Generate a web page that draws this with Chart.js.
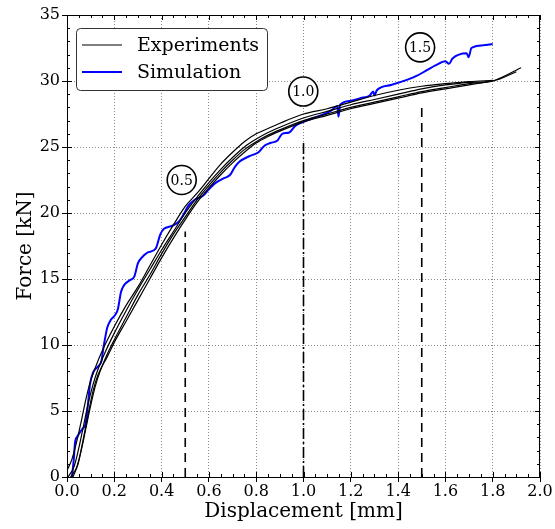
<!DOCTYPE html>
<html>
<head>
<meta charset="utf-8">
<script src="https://cdn.jsdelivr.net/npm/chart.js@4.4.0/dist/chart.umd.min.js"></script>
<style>
  html, body { margin: 0; padding: 0; background: #fff; }
</style>
</head>
<body>
<canvas id="chart" width="555" height="529"></canvas>
<script>
// ---- measured curves: displacement [mm] / force [kN] ----
const exp1Disp  = [0, 0.02, 0.04, 0.06, 0.08, 0.10, 0.12, 0.15, 0.20, 0.25, 0.30, 0.35, 0.40, 0.45, 0.50, 0.55, 0.60, 0.65, 0.70, 0.75, 0.80, 0.85, 0.90, 1.0, 1.1, 1.2, 1.3, 1.4, 1.5, 1.6, 1.7, 1.8];
const exp1Force = [0.5, 1.3, 2.6, 4.2, 5.9, 7.3, 8.3, 9.6, 11.4, 13.0, 14.4, 16.0, 17.6, 19.1, 20.5, 21.5, 22.6, 23.7, 24.6, 25.4, 26.0, 26.4, 26.8, 27.5, 27.9, 28.4, 28.9, 29.3, 29.6, 29.8, 29.95, 30.05];

const exp2Disp  = [0.005, 0.03, 0.05, 0.07, 0.09, 0.11, 0.13, 0.16, 0.20, 0.25, 0.30, 0.35, 0.40, 0.45, 0.50, 0.55, 0.60, 0.65, 0.70, 0.75, 0.80, 0.85, 0.90, 1.0, 1.1, 1.2, 1.3, 1.4, 1.5, 1.6, 1.7, 1.8, 1.90];
const exp2Force = [0, 0.8, 2.2, 3.9, 5.6, 7.0, 8.1, 9.4, 10.9, 12.6, 14.2, 15.7, 17.2, 18.6, 20.0, 21.2, 22.3, 23.3, 24.2, 25.0, 25.6, 26.1, 26.5, 27.2, 27.7, 28.2, 28.6, 29.0, 29.4, 29.7, 29.9, 30.0, 30.7];

const exp3Disp  = [0.015, 0.04, 0.06, 0.08, 0.10, 0.12, 0.14, 0.17, 0.20, 0.25, 0.30, 0.35, 0.40, 0.45, 0.50, 0.55, 0.60, 0.65, 0.70, 0.75, 0.80, 0.85, 0.90, 1.0, 1.1, 1.2, 1.3, 1.4, 1.5, 1.6, 1.7, 1.8, 1.92];
const exp3Force = [0, 0.7, 2.0, 3.7, 5.4, 6.9, 8.0, 9.3, 10.4, 12.1, 13.8, 15.3, 16.9, 18.4, 19.7, 21.0, 22.1, 23.1, 24.0, 24.8, 25.4, 25.9, 26.3, 27.0, 27.5, 28.0, 28.4, 28.8, 29.2, 29.5, 29.8, 30.0, 31.0];

const exp4Disp  = [0.025, 0.047, 0.068, 0.09, 0.11, 0.13, 0.17, 0.20, 0.25, 0.30, 0.35, 0.40, 0.45, 0.50, 0.55, 0.60, 0.65, 0.70, 0.75, 0.80, 0.85, 0.90, 1.0, 1.1, 1.2, 1.3, 1.4, 1.5, 1.6, 1.7, 1.8];
const exp4Force = [0, 1.0, 2.8, 4.8, 6.5, 7.7, 9.1, 10.2, 11.8, 13.4, 15.0, 16.6, 18.1, 19.5, 20.8, 21.9, 22.9, 23.8, 24.6, 25.3, 25.8, 26.2, 26.9, 27.4, 27.9, 28.3, 28.7, 29.1, 29.4, 29.7, 30.0];

// ---- simulation ----
const simDisp  = [0.021, 0.028, 0.034, 0.045, 0.055, 0.068, 0.078, 0.088, 0.097, 0.110, 0.130, 0.146, 0.154, 0.162, 0.170, 0.185, 0.200, 0.215, 0.228, 0.240, 0.265, 0.285, 0.300, 0.315, 0.340, 0.375, 0.395, 0.410, 0.440, 0.470, 0.490, 0.515, 0.540, 0.575, 0.600, 0.630, 0.660, 0.690, 0.710, 0.730, 0.770, 0.810, 0.835, 0.860, 0.890, 0.910, 0.940, 0.965, 1.000, 1.040, 1.090, 1.120, 1.143, 1.148, 1.155, 1.200, 1.240, 1.280, 1.295, 1.300, 1.310, 1.370, 1.440, 1.480, 1.520, 1.560, 1.600, 1.615, 1.630, 1.690, 1.698, 1.710, 1.760, 1.800];
const simForce = [0, 1.2, 2.6, 3.1, 3.4, 3.7, 4.0, 5.4, 7.0, 7.9, 8.35, 8.8, 9.8, 10.6, 11.3, 11.9, 12.2, 12.7, 14.0, 14.5, 14.9, 15.2, 16.2, 16.6, 17.0, 17.3, 18.4, 18.8, 19.0, 19.3, 19.8, 20.6, 21.0, 21.3, 21.8, 22.3, 22.6, 22.9, 23.5, 23.9, 24.3, 24.6, 25.1, 25.3, 25.5, 26.0, 26.1, 26.6, 26.9, 27.2, 27.5, 27.8, 28.1, 27.3, 28.2, 28.5, 28.7, 28.9, 29.2, 28.9, 29.3, 29.7, 30.1, 30.4, 30.8, 31.2, 31.5, 31.3, 31.7, 32.1, 31.8, 32.5, 32.7, 32.8];

// ---- displacement markers (vertical guides) and their tags ----
const guideDisp  = [0.5, 1.0, 1.5];
const guideTop   = [18.6, 25.4, 28.4];
const tagText    = ['0.5', '1.0', '1.5'];
const tagDisp    = [0.485, 0.999, 1.493];
const tagForce   = [22.5, 29.2, 32.55];

// ---- axis ticks ----
const xTickValues = [0, 0.2, 0.4, 0.6, 0.8, 1.0, 1.2, 1.4, 1.6, 1.8, 2.0];
const yTickValues = [0, 5, 10, 15, 20, 25, 30, 35];

const SERIF = '"DejaVu Serif", serif';

function pts(xs, ys) {
  return xs.map((x, i) => ({ x: x, y: ys[i] }));
}

function expSet(xs, ys, label) {
  return {
    label: label,
    data: pts(xs, ys),
    borderColor: '#000',
    borderWidth: 1.2,
    pointRadius: 0,
    showLine: true,
    cubicInterpolationMode: 'monotone',
    fill: false
  };
}

const dashes = [[9, 6], [11, 3, 2, 3], [9, 6]];
const guideSets = guideDisp.map((d, i) => ({
  label: 'guide',
  data: [{ x: d, y: 0 }, { x: d, y: guideTop[i] }],
  borderColor: '#000',
  borderWidth: 1.6,
  borderDash: dashes[i],
  pointRadius: 0,
  showLine: true,
  fill: false
}));

// frame on top/right plus inward minor ticks
const framePlugin = {
  id: 'frame',
  afterDraw(chart) {
    const { ctx, chartArea: a, scales } = chart;
    ctx.save();
    ctx.strokeStyle = '#000';
    ctx.lineWidth = 1;
    ctx.beginPath();
    ctx.moveTo(a.left, a.top + 0.5);
    ctx.lineTo(a.right, a.top + 0.5);
    ctx.moveTo(a.right - 0.5, a.top);
    ctx.lineTo(a.right - 0.5, a.bottom);
    // minor x ticks
    for (let v = 0; v <= 2.0001; v += 0.05) {
      const px = Math.round(scales.x.getPixelForValue(v)) + 0.5;
      const major = Math.abs(v * 5 - Math.round(v * 5)) < 1e-6;
      const len = major ? 5 : 3;
      ctx.moveTo(px, a.bottom); ctx.lineTo(px, a.bottom - len);
      ctx.moveTo(px, a.top); ctx.lineTo(px, a.top + len);
    }
    // minor y ticks
    for (let v = 0; v <= 35; v += 1) {
      const py = Math.round(scales.y.getPixelForValue(v)) + 0.5;
      const len = v % 5 === 0 ? 5 : 3;
      ctx.moveTo(a.left, py); ctx.lineTo(a.left + len, py);
      ctx.moveTo(a.right, py); ctx.lineTo(a.right - len, py);
    }
    ctx.stroke();
    ctx.restore();
  }
};

// circled displacement tags
const tagPlugin = {
  id: 'tags',
  afterDatasetsDraw(chart) {
    const { ctx, scales } = chart;
    ctx.save();
    tagText.forEach((t, i) => {
      const cx = scales.x.getPixelForValue(tagDisp[i]);
      const cy = scales.y.getPixelForValue(tagForce[i]);
      ctx.beginPath();
      ctx.arc(cx, cy, 14.5, 0, Math.PI * 2);
      ctx.fillStyle = '#fff';
      ctx.fill();
      ctx.lineWidth = 1.6;
      ctx.strokeStyle = '#000';
      ctx.stroke();
      ctx.fillStyle = '#000';
      ctx.font = '14px ' + SERIF;
      ctx.textAlign = 'center';
      ctx.textBaseline = 'middle';
      ctx.fillText(t, cx, cy + 1);
    });
    ctx.restore();
  }
};

// legend box in the upper left of the plot
const legendPlugin = {
  id: 'boxLegend',
  afterDraw(chart) {
    const { ctx, chartArea: a } = chart;
    const entries = [
      { text: 'Experiments', color: '#000', width: 1 },
      { text: 'Simulation', color: '#0000ff', width: 2 }
    ];
    const x = a.left + 9, y = a.top + 13, w = 191, h = 62, r = 4;
    ctx.save();
    ctx.beginPath();
    ctx.roundRect(x + 0.5, y + 0.5, w, h, r);
    ctx.fillStyle = '#fff';
    ctx.fill();
    ctx.strokeStyle = '#333';
    ctx.lineWidth = 1;
    ctx.stroke();
    ctx.font = '19px ' + SERIF;
    ctx.textBaseline = 'middle';
    ctx.textAlign = 'left';
    entries.forEach((e, i) => {
      const ly = y + 17 + i * 27;
      ctx.beginPath();
      ctx.moveTo(x + 6, ly);
      ctx.lineTo(x + 46, ly);
      ctx.strokeStyle = e.color;
      ctx.lineWidth = e.width;
      ctx.stroke();
      ctx.fillStyle = '#000';
      ctx.fillText(e.text, x + 61, ly + 1);
    });
    ctx.restore();
  }
};

new Chart(document.getElementById('chart'), {
  type: 'scatter',
  data: {
    datasets: [
      expSet(exp1Disp, exp1Force, 'Experiments'),
      expSet(exp2Disp, exp2Force, 'Experiments'),
      expSet(exp3Disp, exp3Force, 'Experiments'),
      expSet(exp4Disp, exp4Force, 'Experiments'),
      ...guideSets,
      {
        label: 'Simulation',
        data: pts(simDisp, simForce),
        borderColor: '#0000ff',
        borderWidth: 2,
        pointRadius: 0,
        showLine: true,
        cubicInterpolationMode: 'monotone',
        fill: false
      }
    ]
  },
  options: {
    responsive: false,
    animation: false,
    devicePixelRatio: 1,
    layout: { padding: { top: 15, right: 15, bottom: 0, left: 0 } },
    plugins: {
      legend: { display: false },
      tooltip: { enabled: false }
    },
    scales: {
      x: {
        type: 'linear',
        min: 0,
        max: 2,
        afterBuildTicks: s => { s.ticks = xTickValues.map(v => ({ value: v })); },
        afterFit: s => { s.height = 52; },
        ticks: {
          callback: v => v.toFixed(1),
          font: { family: SERIF, size: 16 },
          color: '#000',
          padding: 0,
          maxRotation: 0,
          autoSkip: false
        },
        grid: { color: '#8a8a8a', lineWidth: 1, tickLength: 5, tickColor: '#000', tickBorderDash: [] },
        border: { color: '#000', width: 1, dash: [1, 2] },
        title: {
          display: true,
          text: 'Displacement [mm]',
          font: { family: SERIF, size: 20 },
          color: '#000',
          padding: { top: 0, bottom: 5 }
        }
      },
      y: {
        type: 'linear',
        min: 0,
        max: 35,
        afterBuildTicks: s => { s.ticks = yTickValues.map(v => ({ value: v })); },
        afterFit: s => { s.width = 67; },
        ticks: {
          font: { family: SERIF, size: 16 },
          color: '#000',
          padding: 2
        },
        grid: { color: '#8a8a8a', lineWidth: 1, tickLength: 5, tickColor: '#000', tickBorderDash: [] },
        border: { color: '#000', width: 1, dash: [1, 2] },
        title: {
          display: true,
          text: 'Force [kN]',
          font: { family: SERIF, size: 20 },
          color: '#000',
          padding: { top: 14, bottom: 0 }
        }
      }
    }
  },
  plugins: [framePlugin, tagPlugin, legendPlugin]
});
</script>
</body>
</html>
